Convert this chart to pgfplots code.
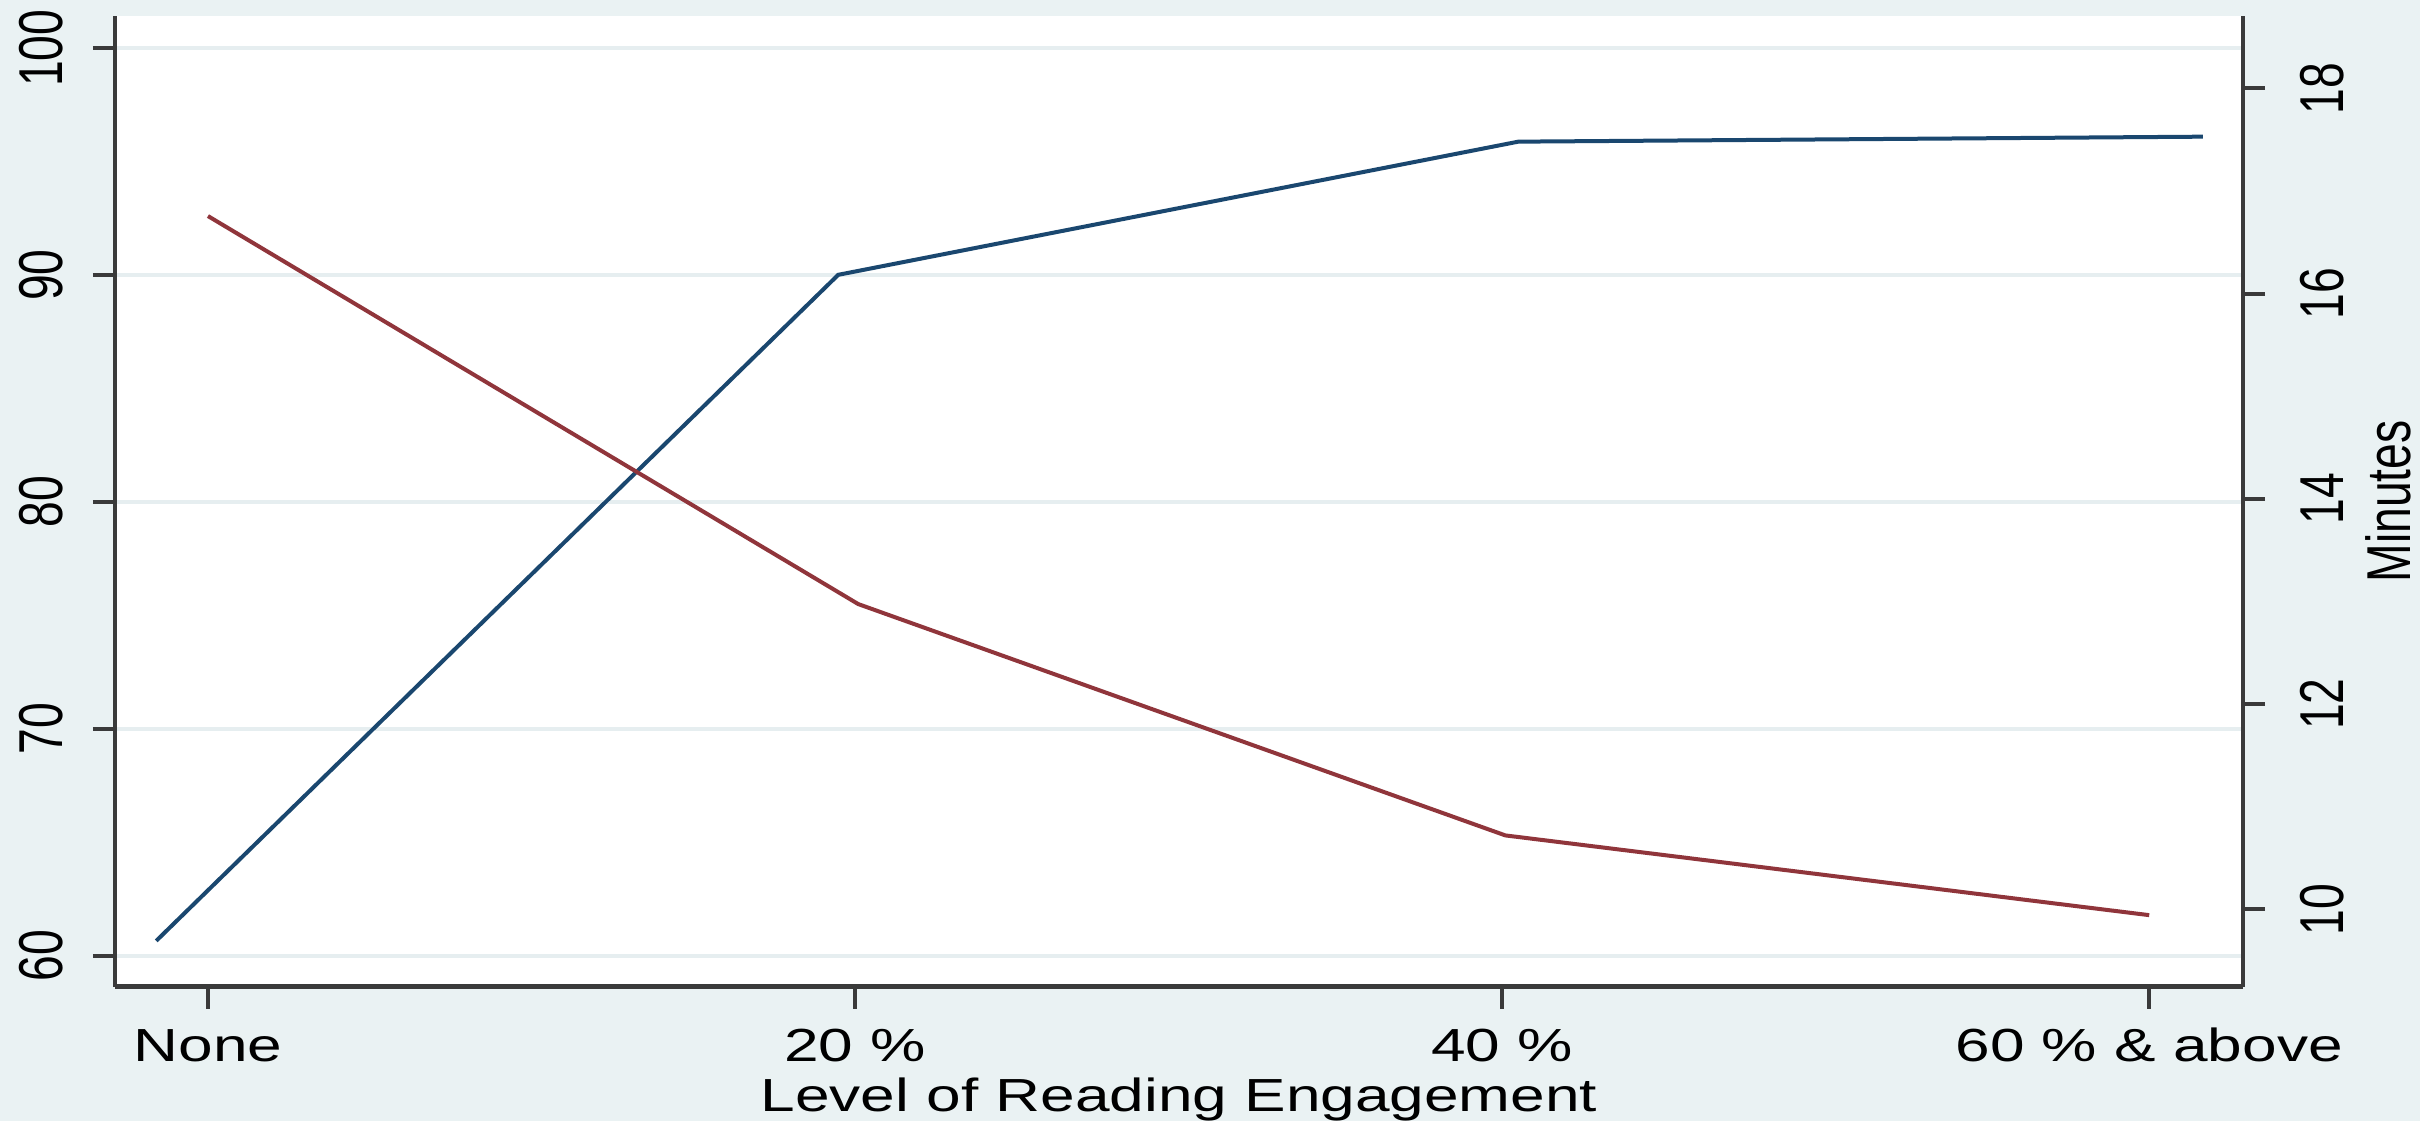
\documentclass[border=0pt]{standalone}
\usepackage{fontspec}
\setmainfont{Liberation Sans}[FakeStretch=1.34]
\newfontfamily\rotfont{Liberation Sans}[FakeStretch=0.746]
\usepackage{pgfplots}
\pgfplotsset{compat=1.18}
\definecolor{bgc}{HTML}{EAF2F3}
\definecolor{gridc}{HTML}{E6EEF0}
\definecolor{navy}{HTML}{1A476F}
\definecolor{maroon}{HTML}{90353B}
\definecolor{axc}{HTML}{3A3A3A}
\newcommand{\hfnt}{\fontsize{11.6}{13}\selectfont}
\newcommand{\rfnt}{\rotfont\fontsize{15.5}{16}\selectfont}
\pgfplotsset{
  common/.style={
    at={(28.75pt,33.575pt)}, anchor=south west,
    scale only axis, width=532pt, height=242.675pt,
    xmin=-0.1437, xmax=3.145,
    axis line style={axc, line width=1.1pt},
    tick style={axc, line width=1pt},
    major tick length=5.5pt,
    tick align=outside,
    /pgf/number format/assume math mode=true,
    yticklabel style={font=\rfnt, rotate=90, anchor=base},
  }
}
\begin{document}
\begin{tikzpicture}
\fill[bgc] (0,0) rectangle (605pt,280.25pt);
\begin{axis}[common,
  ymin=58.63, ymax=101.42,
  axis x line*=bottom, axis y line*=left,
  axis background/.style={fill=white},
  xtick={0,1,2,3}, xticklabels={None, 20 \%, 40 \%, 60 \% \& above},
  xticklabel style={font=\hfnt, anchor=base},
  xticklabel shift=13.25pt,
  ytick={60,70,80,90,100},
  yticklabel shift=7.5pt,
  ymajorgrids, grid style={gridc, line width=1pt},
  xlabel={Level of Reading Engagement},
  xlabel style={font=\hfnt, at={(axis description cs:0.5,-0.129)}, anchor=base},
]
\addplot[navy, line width=1pt] coordinates {
  (-0.080,60.65) (0.974,90.01) (2.025,95.88) (3.083,96.10)
};
\end{axis}
\begin{axis}[common,
  ymin=9.246, ymax=18.705,
  axis x line=none, axis y line*=right,
  ytick={10,12,14,16,18},
  yticklabel shift=19.5pt,
  ylabel={Minutes},
  ylabel style={font=\rfnt, inner sep=0pt, at={(axis description cs:1.0785,0.5)}, anchor=base},
]
\addplot[maroon, line width=1pt] coordinates {
  (0,16.755) (1.005,12.974) (2.005,10.72) (3.0,9.943)
};
\end{axis}
\pgfresetboundingbox
\useasboundingbox (0,0) rectangle (605pt,280.25pt);
\end{tikzpicture}
\end{document}
